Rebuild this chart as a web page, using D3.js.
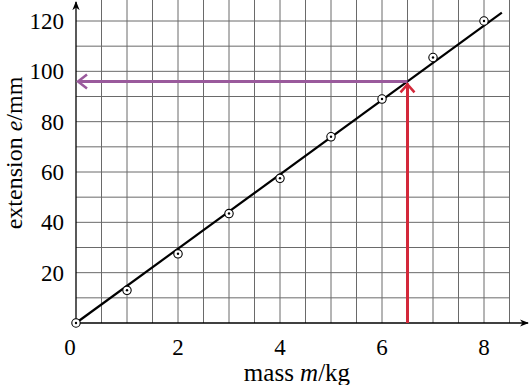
<!DOCTYPE html>
<html>
<head>
    <style>
        body { margin: 0; background: #fff; }
        svg { font-family: 'Liberation Serif', 'DejaVu Serif', serif; }
        .grid line { stroke: #6a6a6a; stroke-width: 1; }
    </style>
</head>
<body>
    <div id="chart"></div>
    <script src="https://cdn.jsdelivr.net/npm/d3@7/dist/d3.min.js"></script>
    <script>
        // readings taken off the graph
        const masses = [0, 1, 2, 3, 4, 5, 6, 7, 8];
        const extensions = [0, 13, 27.5, 43.5, 57.5, 74, 89, 105.5, 120];
        const fitLine = [[0, 0], [8.35, 123.3]];
        const readMass = 6.5;
        const readExtension = 96;
        const xTicks = [0, 2, 4, 6, 8];
        const yTicks = [20, 40, 60, 80, 100, 120];

        const [width, height] = [530, 385];
        const svg = d3.select("#chart").append("svg")
            .attr("width", width).attr("height", height);

        const x = d3.scaleLinear().domain([0, 8.5]).range([76, 509.5]);
        const y = d3.scaleLinear().domain([0, 120]).range([323, 21]);

        // grid
        const grid = svg.append("g").attr("class", "grid");
        grid.selectAll(".v").data(d3.range(1, 18).map(i => i * 0.5))
            .enter().append("line")
            .attr("x1", d => x(d)).attr("x2", d => x(d))
            .attr("y1", y(0)).attr("y2", 0);
        grid.selectAll(".h").data(d3.range(1, 13).map(i => i * 10))
            .enter().append("line")
            .attr("x1", x(0)).attr("x2", x(8.5))
            .attr("y1", d => y(d)).attr("y2", d => y(d));

        // axes with arrows
        svg.append("defs").append("marker")
            .attr("id", "axArrow").attr("viewBox", "0 0 10 10")
            .attr("refX", 9).attr("refY", 5)
            .attr("markerWidth", 7).attr("markerHeight", 7)
            .attr("orient", "auto")
            .append("path").attr("d", "M0,1 L10,5 L0,9 L3,5 Z").attr("fill", "#000");

        svg.append("line")
            .attr("x1", x(0)).attr("x2", 528)
            .attr("y1", y(0)).attr("y2", y(0))
            .attr("stroke", "#000").attr("stroke-width", 1.3)
            .attr("marker-end", "url(#axArrow)");
        svg.append("line")
            .attr("x1", x(0)).attr("x2", x(0))
            .attr("y1", y(0)).attr("y2", 2)
            .attr("stroke", "#000").attr("stroke-width", 1.3)
            .attr("marker-end", "url(#axArrow)");

        // tick labels
        svg.selectAll(".xl").data(xTicks).enter().append("text")
            .attr("x", d => x(d) - (d === 0 ? 6 : 0))
            .attr("y", 355)
            .attr("text-anchor", "middle")
            .attr("font-size", 23)
            .text(d => d);
        svg.selectAll(".yl").data(yTicks).enter().append("text")
            .attr("x", 64)
            .attr("y", d => y(d) + 8)
            .attr("text-anchor", "end")
            .attr("font-size", 23)
            .text(d => d);

        // axis titles
        const xt = svg.append("text")
            .attr("x", 297).attr("y", 381)
            .attr("text-anchor", "middle")
            .attr("font-size", 25);
        xt.append("tspan").text("mass ");
        xt.append("tspan").attr("font-style", "italic").text("m");
        xt.append("tspan").text("/kg");

        const yt = svg.append("text")
            .attr("transform", "translate(22,153) rotate(-90)")
            .attr("text-anchor", "middle")
            .attr("font-size", 24);
        yt.append("tspan").text("extension ");
        yt.append("tspan").attr("font-style", "italic").text("e");
        yt.append("tspan").text("/mm");

        // best-fit line
        svg.append("line")
            .attr("x1", x(fitLine[0][0])).attr("y1", y(fitLine[0][1]))
            .attr("x2", x(fitLine[1][0])).attr("y2", y(fitLine[1][1]))
            .attr("stroke", "#000").attr("stroke-width", 2.2);

        // reading arrows
        const purple = "#9a5a9c", red = "#d3283a";
        svg.append("polyline")
            .attr("points", `${x(0) + 11},${y(readExtension) - 7} ${x(0) + 2},${y(readExtension)} ${x(0) + 11},${y(readExtension) + 7}`)
            .attr("fill", "none").attr("stroke", purple).attr("stroke-width", 2.5);
        svg.append("line")
            .attr("x1", x(0) + 2).attr("x2", x(readMass))
            .attr("y1", y(readExtension)).attr("y2", y(readExtension))
            .attr("stroke", purple).attr("stroke-width", 3);

        svg.append("line")
            .attr("x1", x(readMass)).attr("x2", x(readMass))
            .attr("y1", y(0)).attr("y2", y(readExtension) + 2)
            .attr("stroke", red).attr("stroke-width", 3);
        svg.append("polyline")
            .attr("points", `${x(readMass) - 7},${y(readExtension) + 11} ${x(readMass)},${y(readExtension) + 3} ${x(readMass) + 7},${y(readExtension) + 11}`)
            .attr("fill", "none").attr("stroke", red).attr("stroke-width", 2.5);

        // data points
        const pts = svg.selectAll(".pt").data(masses.map((m, i) => [m, extensions[i]]))
            .enter().append("g")
            .attr("transform", d => `translate(${x(d[0])},${y(d[1])})`);
        pts.append("circle").attr("r", 4.2)
            .attr("fill", "#fff").attr("stroke", "#000").attr("stroke-width", 1.1);
        pts.append("circle").attr("r", 1.2).attr("fill", "#000");
    </script>
</body>
</html>
